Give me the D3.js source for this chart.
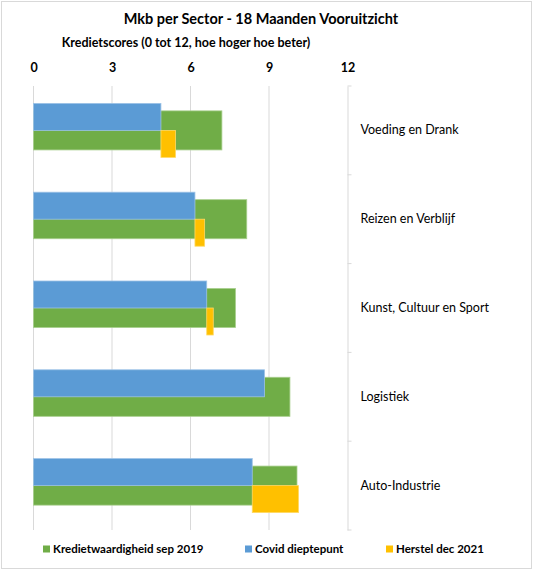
<!DOCTYPE html>
<html>
<head>
<meta charset="utf-8">
<script src="https://cdn.jsdelivr.net/npm/d3@7"></script>
<style>
	body { margin: 0; background: #fff; }
	text { font-family: Lato, "Open Sans", sans-serif; fill: #000; }
</style>
</head>
<body>
<svg id="chart" width="534" height="572"></svg>
<script>
// sectors, top to bottom
const sectors = ["Voeding en Drank", "Reizen en Verblijf", "Kunst, Cultuur en Sport", "Logistiek", "Auto-Industrie"];
// credit scores
const krediet2019 = [7.2, 8.15, 7.72, 9.8, 10.07];
const covidDip = [4.87, 6.17, 6.62, 8.83, 8.36];
const herstel2021 = [5.43, 6.54, 6.87, null, 10.13];
const xTicks = [0, 3, 6, 9, 12];

const seriesNames = ["Kredietwaardigheid sep 2019", "Covid dieptepunt", "Herstel dec 2021"];
const colors = ["#70AD47", "#5B9BD5", "#FFC000"];
const edge = ["#A9CF8E", "#9DC3E6", "#FFD966"];

const svg = d3.select("#chart");
const plotLeft = 33.5, plotRight = 347.5, plotTop = 86, plotBottom = 530;

//outer frame
svg.append("rect")
	.attr("x", 1.5).attr("y", 1.5)
	.attr("width", 530).attr("height", 567)
	.attr("fill", "none")
	.attr("stroke", "#d9d9d9");

const x = d3.scaleLinear().domain([0, 12]).range([plotLeft, plotRight]);
const y = d3.scaleBand().domain(sectors).range([plotTop, plotBottom]);
//blue / yellow sit side by side in the band
const sub = d3.scaleBand().domain(["covid", "herstel"]).range([0, y.bandwidth()]).paddingOuter(0.644);
const greenH = y.bandwidth() * 0.44;

//title
svg.append("text")
	.attr("x", 261).attr("y", 24)
	.attr("text-anchor", "middle")
	.style("font-size", "14.5px").style("font-weight", "bold")
	.text("Mkb per Sector - 18 Maanden Vooruitzicht");

svg.append("text")
	.attr("x", 186).attr("y", 47)
	.attr("text-anchor", "middle")
	.style("font-size", "12.5px").style("font-weight", "bold")
	.text("Kredietscores (0 tot 12, hoe hoger hoe beter)");

//grid
svg.append("g").selectAll("line")
	.data(xTicks.slice(0, -1))
	.enter()
	.append("line")
	.attr("x1", d => x(d)).attr("x2", d => x(d))
	.attr("y1", plotTop).attr("y2", plotBottom)
	.attr("stroke", "#d9d9d9");

//top axis labels
const xAxis = svg.append("g")
	.attr("transform", "translate(0," + 72 + ")")
	.call(d3.axisTop(x).tickValues(xTicks).tickSize(0).tickPadding(0));
xAxis.select(".domain").remove();
xAxis.selectAll("text")
	.style("font-family", "Lato, sans-serif")
	.style("font-size", "12.5px").style("font-weight", "bold")
	.attr("fill", "#000");

//right category axis
const yAxis = svg.append("g")
	.attr("transform", "translate(" + plotRight + ",0)")
	.call(d3.axisRight(y).tickSize(0).tickPadding(13));
yAxis.select(".domain").attr("stroke", "#d9d9d9");
yAxis.selectAll("text")
	.style("font-family", "Lato, sans-serif")
	.style("font-size", "12.5px")
	.attr("fill", "#000");
svg.append("g").selectAll("line")
	.data(d3.range(sectors.length + 1))
	.enter()
	.append("line")
	.attr("x1", plotRight).attr("x2", plotRight + 4)
	.attr("y1", i => plotTop + i * y.step()).attr("y2", i => plotTop + i * y.step())
	.attr("stroke", "#d9d9d9");

const rows = sectors.map((s, i) => ({ s: s, k: krediet2019[i], c: covidDip[i], h: herstel2021[i] }));

//green bars behind
svg.append("g").selectAll("rect")
	.data(rows)
	.enter()
	.append("rect")
	.attr("x", x(0))
	.attr("y", d => y(d.s) + y.bandwidth() / 2 - greenH / 2)
	.attr("width", d => x(d.k) - x(0))
	.attr("height", greenH)
	.attr("fill", colors[0])
	.attr("stroke", edge[0]).attr("stroke-width", 0.8);

svg.append("g").selectAll("rect")
	.data(rows)
	.enter()
	.append("rect")
	.attr("x", x(0))
	.attr("y", d => y(d.s) + sub("covid"))
	.attr("width", d => x(d.c) - x(0))
	.attr("height", sub.bandwidth())
	.attr("fill", colors[1])
	.attr("stroke", edge[1]).attr("stroke-width", 0.8);

//yellow starts where blue ends
svg.append("g").selectAll("rect")
	.data(rows.filter(d => d.h != null))
	.enter()
	.append("rect")
	.attr("x", d => x(d.c))
	.attr("y", d => y(d.s) + sub("herstel"))
	.attr("width", d => x(d.h) - x(d.c))
	.attr("height", sub.bandwidth())
	.attr("fill", colors[2])
	.attr("stroke", edge[2]).attr("stroke-width", 0.8);

//legend
const legendX = [43, 245, 386];
const legend = svg.append("g").selectAll("g")
	.data(seriesNames)
	.enter()
	.append("g")
	.attr("transform", (d, i) => "translate(" + legendX[i] + ",549)");
legend.append("rect")
	.attr("x", 0).attr("y", -3.5)
	.attr("width", 7).attr("height", 7)
	.attr("fill", (d, i) => colors[i]);
legend.append("text")
	.attr("x", 10).attr("y", 4)
	.style("font-size", "11.5px").style("font-weight", "bold")
	.text(d => d);
</script>
</body>
</html>
